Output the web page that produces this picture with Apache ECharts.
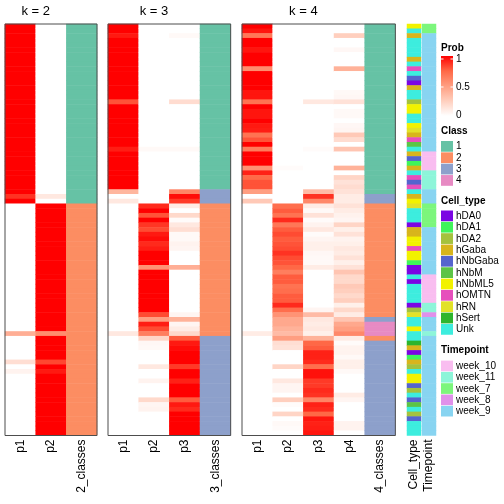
<!DOCTYPE html>
<html><head><meta charset="utf-8">
<script src="https://cdn.jsdelivr.net/npm/echarts@6/dist/echarts.min.js"></script>
<style>html,body{margin:0;padding:0;background:#fff}#c{width:504px;height:504px}</style>
</head><body><div id="c"></div>
<script>
// ---------------- DATA ----------------
const k2_p1 = [1,1,1,1,1,1,1,1,1,1, 1,1,1,1,1,1,1,1,1,1, 1,1,1,1,1,1,1,1,1,1,
  1,1,1,1,1,1,0.88,1,0,0, 0,0,0,0,0,0,0,0,0,0, 0,0,0,0,0,0,0,0,0,0,
  0,0,0,0,0,0.42,0,0,0,0, 0,0.17,0,0.06,0,0,0,0,0,0, 0,0,0,0,0,0,0];
const k2_p2 = [0,0,0,0,0,0,0,0,0,0, 0,0,0,0,0,0,0,0,0,0, 0,0,0,0,0,0,0,0,0,0,
  0,0,0,0,0,0,0.12,0,1,1, 1,1,1,1,1,1,1,1,1,1, 1,1,1,1,1,1,1,1,1,1,
  1,1,1,1,1,0.58,1,1,1,1, 1,0.83,1,0.94,1,1,1,1,1,1, 1,1,1,1,1,1,1];
const k2_class = [1,1,1,1,1,1,1,1,1,1, 1,1,1,1,1,1,1,1,1,1, 1,1,1,1,1,1,1,1,1,1,
  1,1,1,1,1,1,1,1,2,2, 2,2,2,2,2,2,2,2,2,2, 2,2,2,2,2,2,2,2,2,2,
  2,2,2,2,2,2,2,2,2,2, 2,2,2,2,2,2,2,2,2,2, 2,2,2,2,2,2,2];

const k3_p1 = [1,1,0.94,1,1,1,1,1,1,1, 1,1,1,1,1,1,0.8,1,1,1, 1,1,1,1,1,1,0.93,1,1,1,
  1,1,1,1,1,0.38,0,0.12,0,0, 0,0,0,0,0,0,0,0,0,0, 0,0,0,0,0,0,0,0,0,0,
  0,0,0,0,0,0.12,0,0,0,0, 0,0,0,0,0,0,0,0,0,0, 0,0,0,0,0,0,0];
const k3_p2 = [0,0,0,0,0,0,0,0,0,0, 0,0,0,0,0,0,0,0,0,0, 0,0,0,0,0,0,0.03,0,0,0,
  0,0,0,0,0,0,0,0,0.9,1, 0.8,1,0.87,0.82,0.94,0.97,0.9,0.93,1,1, 1,0.55,1,1,1,1,1,1,1,1,
  1,0.82,0.5,0.93,0.82,0.65,0.22,0.04,0.03,0, 0,0,0.12,0,0,0.06,0,0,0,0.2, 0.05,0.06,0,0,0,0,0];
const k3_p3 = [0,0,0.03,0,0,0,0,0,0,0, 0,0,0,0,0,0,0.18,0,0,0, 0,0,0,0,0,0,0.03,0,0,0,
  0,0,0,0,0,0.62,0.97,0.86,0.1,0, 0.2,0.02,0.12,0.17,0.03,0.03,0.06,0.05,0,0, 0,0.42,0,0,0,0,0,0,0,0,
  0,0.05,0.4,0.05,0.1,0.2,0.78,0.94,0.97,1, 1,1,0.86,1,1,0.92,1,1,1,0.78, 0.94,0.9,1,1,1,1,1];
const k3_class = [1,1,1,1,1,1,1,1,1,1, 1,1,1,1,1,1,1,1,1,1, 1,1,1,1,1,1,1,1,1,1,
  1,1,1,1,1,3,3,3,2,2, 2,2,2,2,2,2,2,2,2,2, 2,2,2,2,2,2,2,2,2,2,
  2,2,2,2,2,2,3,3,3,3, 3,3,3,3,3,3,3,3,3,3, 3,3,3,3,3,3,3];

const k4_p1 = [1,0.95,0.68,1,1,0.95,1,1,1,0.58, 1,1,1,1,0.95,0.95,0.7,1,0.95,0.95,
  1,0.94,0.93,0.7,0.8,1,0.66,1,1,1, 0.56,0.92,0.74,0.8,0.8,0.5,0,0.28,0,0,
  0,0,0,0,0,0,0,0,0,0, 0,0,0,0,0,0,0,0,0,0, 0,0,0,0,0,0.1,0,0,0,0,
  0,0,0,0,0,0,0,0,0,0, 0,0,0,0,0,0,0];
const k4_p2 = [0,0,0,0,0,0,0,0,0,0, 0,0,0,0,0,0,0,0,0,0, 0,0,0,0,0,0,0,0,0,0,
  0.02,0,0,0,0,0,0,0,0.72,0.78, 0.7,0.9,0.68,0.78,0.82,0.78,0.8,0.82,0.88,0.82,
  0.8,0.75,0.65,0.78,0.78,0.7,0.72,0.78,0.78,0.9, 0.72,0.55,0.45,0.45,0.4,0.35,0.5,0.17,0.15,0,
  0,0,0.22,0,0,0.12,0.05,0.05,0,0.25, 0.02,0,0.22,0,0.03,0.02,0];
const k4_p3 = [0,0,0,0,0,0,0,0,0,0, 0,0,0,0,0,0,0.12,0,0,0, 0,0,0,0,0,0,0.02,0,0,0,
  0,0,0,0,0,0.35,0.88,0.6,0.1,0.03, 0.15,0.02,0.06,0.12,0.02,0.05,0.08,0.08,0.04,0.03,
  0.03,0.1,0,0,0,0,0,0,0,0, 0.05,0.35,0.12,0.1,0.12,0.08,0.4,0.75,0.78,0.92,
  0.92,0.9,0.72,0.96,0.96,0.86,0.86,0.9,0.88,0.62, 0.92,0.9,0.75,0.95,0.92,0.93,0.95];
const k4_p4 = [0,0,0.25,0,0,0.04,0,0,0,0.4, 0,0,0,0,0.03,0.04,0.15,0,0.03,0.03,
  0,0.04,0.05,0.28,0.18,0,0.3,0,0,0, 0.4,0,0.22,0.15,0.18,0.15,0.1,0.1,0.15,0.1,
  0.07,0.05,0.22,0.08,0.15,0.06,0.08,0.12,0.1,0.15, 0.08,0.15,0.3,0.2,0.2,0.28,0.25,0.2,0.25,0.08,
  0.2,0.1,0.3,0.45,0.5,0.6,0.1,0.02,0.06,0.06, 0.03,0.08,0.08,0.03,0,0,0,0,0.1,0.05,
  0,0,0,0,0.06,0.06,0];
const k4_class = [1,1,1,1,1,1,1,1,1,1, 1,1,1,1,1,1,1,1,1,1, 1,1,1,1,1,1,1,1,1,1,
  1,1,1,1,1,1,3,3,2,2, 2,2,2,2,2,2,2,2,2,2, 2,2,2,2,2,2,2,2,2,2,
  2,2,3,4,4,4,2,3,3,3, 3,3,3,3,3,3,3,3,3,3, 3,3,3,3,3,3,3];

const cellTypeRows = ['hNbML5','Unk','hGaba','Unk','Unk','Unk','Unk','hGaba','Unk','hOMTN',
  'Unk','hNbGaba','hDA0','hGaba','Unk','Unk','hDA2','hNbML5','hNbML5','Unk',
  'Unk','hNbML5','hRN','hGaba','hOMTN','hNbM','Unk','hGaba','hNbGaba','hDA1',
  'hGaba','Unk','hOMTN','hNbGaba','hOMTN','Unk','hGaba','hNbML5','hRN','Unk',
  'Unk','Unk','hDA0','hGaba','hGaba','hNbML5','hNbML5','hOMTN','hNbML5','hNbML5',
  'hDA1','hDA0','hDA0','Unk','hDA0','Unk','Unk','Unk','Unk','hDA0',
  'hDA2','hRN','Unk','Unk','hNbML5','Unk','Unk','hSert','hGaba','hDA0',
  'hDA1','hGaba','hDA2','Unk','hNbML5','hNbML5','hNbGaba','hDA2','Unk','hNbGaba',
  'hNbM','Unk','hDA2','hNbGaba','Unk','Unk','Unk'];
const timepointRows = ['week_7','week_7','week_9','week_9','week_9','week_9','week_9','week_9','week_9','week_9',
  'week_9','week_9','week_9','week_9','week_9','week_9','week_9','week_9','week_9','week_9',
  'week_9','week_9','week_9','week_9','week_9','week_9','week_9','week_10','week_10','week_10',
  'week_10','week_11','week_11','week_11','week_11','week_9','week_9','week_9','week_7','week_7',
  'week_7','week_7','week_7','week_9','week_9','week_9','week_9','week_9','week_9','week_9',
  'week_9','week_9','week_9','week_10','week_10','week_10','week_10','week_10','week_10','week_11',
  'week_11','week_8','week_9','week_9','week_9','week_11','week_9','week_9','week_9','week_9',
  'week_9','week_9','week_9','week_9','week_9','week_9','week_9','week_9','week_9','week_9',
  'week_9','week_9','week_9','week_9','week_9','week_9','week_9'];

const classLevels = ['1','2','3','4'];
const classColors = ['#66C2A5','#FC8D62','#8DA0CB','#E78AC3'];
const cellTypeLevels = ['hDA0','hDA1','hDA2','hGaba','hNbGaba','hNbM','hNbML5','hOMTN','hRN','hSert','Unk'];
const cellTypeColors = ['#7B05E3','#3FF55B','#A4C23E','#D8B51C','#5564CE','#5CC446','#F2F200','#E64FBC','#E2E228','#2DB52D','#3DEDDE'];
const timepointLevels = ['week_10','week_11','week_7','week_8','week_9'];
const timepointColors = ['#F9BDF0','#8DF5D9','#7CF67C','#E090EA','#88D4F1'];
const probTicks = ['1','0.5','0'];
const probColors = ['#FFFFFF','#FFCFBE','#FF9E81','#FF6846','#FF0000'];

// ---------------- LAYOUT ----------------
const FONT = '"Liberation Sans", Arial, Helvetica, sans-serif';
const TOP = 24, H = 411.5, COLW = 30.67;
const NROW = k2_p1.length;
const rowIds = Array.from({length: NROW}, (_, i) => 'r' + i);
const panels = [
  {k: 2, left: 5,   cols: [k2_p1, k2_p2], cls: k2_class},
  {k: 3, left: 108, cols: [k3_p1, k3_p2, k3_p3], cls: k3_class},
  {k: 4, left: 242, cols: [k4_p1, k4_p2, k4_p3, k4_p4], cls: k4_class}
];
const annots = [
  {name: 'Cell_type', left: 407, rows: cellTypeRows, levels: cellTypeLevels, colors: cellTypeColors},
  {name: 'Timepoint', left: 422, rows: timepointRows, levels: timepointLevels, colors: timepointColors}
];
const ANW = 14;

const grid = [], xAxis = [], yAxis = [], series = [], graphic = [];
const probIdx = [], classIdx = [];
const labelStyle = {rotate: 90, margin: 4, fontSize: 12, fontFamily: FONT, color: '#000', interval: 0};

panels.forEach((p, gi) => {
  const n = p.cols.length;
  const w = COLW * (n + 1);
  grid.push({left: p.left, top: TOP, width: w, height: H, containLabel: false});
  const names = p.cols.map((_, i) => 'p' + (i + 1)).concat([p.k + '_classes']);
  xAxis.push({type: 'category', gridIndex: gi, data: names, position: 'bottom',
    axisLine: {show: false}, axisTick: {show: false}, splitLine: {show: false}, axisLabel: labelStyle});
  yAxis.push({type: 'category', gridIndex: gi, data: rowIds, inverse: true, show: false});
  const pd = [];
  p.cols.forEach((col, c) => col.forEach((v, r) => pd.push([c, r, v])));
  probIdx.push(series.length);
  series.push({type: 'heatmap', xAxisIndex: gi, yAxisIndex: gi, data: pd, itemStyle: {borderWidth: 0}, emphasis: {disabled: true}, progressive: 0});
  classIdx.push(series.length);
  series.push({type: 'heatmap', xAxisIndex: gi, yAxisIndex: gi, data: p.cls.map((v, r) => [n, r, v]), itemStyle: {borderWidth: 0}, emphasis: {disabled: true}, progressive: 0});
  // border
  graphic.push({type: 'rect', z: 100, shape: {x: p.left, y: TOP, width: w, height: H}, style: {fill: 'none', stroke: '#4D4D4D', lineWidth: 1}});
  // title, centred over the probability columns
  graphic.push({type: 'text', z: 100, style: {text: 'k = ' + p.k, x: p.left + COLW * n / 2, y: 11, align: 'center', verticalAlign: 'middle', font: '13px ' + FONT, fill: '#000'}});
});

const annIdx = [];
annots.forEach((a, ai) => {
  const gi = panels.length + ai;
  grid.push({left: a.left, top: TOP, width: ANW, height: H});
  xAxis.push({type: 'category', gridIndex: gi, data: [a.name], position: 'bottom',
    axisLine: {show: false}, axisTick: {show: false}, splitLine: {show: false}, axisLabel: labelStyle});
  yAxis.push({type: 'category', gridIndex: gi, data: rowIds, inverse: true, show: false});
  annIdx.push(series.length);
  series.push({type: 'heatmap', xAxisIndex: gi, yAxisIndex: gi,
    data: a.rows.map((v, r) => [0, r, a.levels.indexOf(v)]), itemStyle: {borderWidth: 0}, emphasis: {disabled: true}, progressive: 0});
});

// ---------------- LEGENDS ----------------
const LX = 441, LBW = 12, TX = 456;
function title(t, y) {
  graphic.push({type: 'text', style: {text: t, x: LX, y: y, verticalAlign: 'middle', font: 'bold 10px ' + FONT, fill: '#000'}});
}
function label(t, y) {
  graphic.push({type: 'text', style: {text: t, x: TX, y: y, verticalAlign: 'middle', font: '10px ' + FONT, fill: '#000'}});
}
// Prob
title('Prob', 48);
const gTop = 56, gBot = 116;
graphic.push({type: 'rect', shape: {x: LX, y: gTop, width: LBW, height: gBot - gTop},
  style: {fill: {type: 'linear', x: 0, y: 0, x2: 0, y2: 1, colorStops: probColors.slice().reverse().map((c, i, arr) => ({offset: i / (arr.length - 1), color: c}))}}});
const tickY = [59, 87, 115];
probTicks.forEach((t, i) => {
  label(t, tickY[i]);
  graphic.push({type: 'line', shape: {x1: LX, y1: tickY[i], x2: LX + 2.5, y2: tickY[i]}, style: {stroke: '#fff', lineWidth: 1}});
  graphic.push({type: 'line', shape: {x1: LX + LBW - 2.5, y1: tickY[i], x2: LX + LBW, y2: tickY[i]}, style: {stroke: '#fff', lineWidth: 1}});
});
function discrete(tt, ty, y0, step, levels, colors) {
  title(tt, ty);
  levels.forEach((lv, i) => {
    const y = y0 + i * step;
    graphic.push({type: 'rect', shape: {x: LX, y: y, width: LBW, height: step - 0.6}, style: {fill: colors[i]}});
    label(lv, y + step / 2);
  });
}
discrete('Class', 131, 141, 11.35, classLevels, classColors);
discrete('Cell_type', 201.7, 210.5, 11.35, cellTypeLevels, cellTypeColors);
discrete('Timepoint', 350.3, 360.6, 11.3, timepointLevels, timepointColors);

const chart = echarts.init(document.getElementById('c'), null, {renderer: 'canvas'});
chart.setOption({
  animation: false,
  backgroundColor: '#fff',
  grid, xAxis, yAxis, series, graphic,
  visualMap: [
    {type: 'continuous', show: false, min: 0, max: 1, dimension: 2, seriesIndex: probIdx, inRange: {color: probColors}},
    {type: 'piecewise', show: false, dimension: 2, seriesIndex: classIdx,
      pieces: classColors.map((c, i) => ({value: i + 1, color: c}))},
    {type: 'piecewise', show: false, dimension: 2, seriesIndex: [annIdx[0]],
      pieces: cellTypeColors.map((c, i) => ({value: i, color: c}))},
    {type: 'piecewise', show: false, dimension: 2, seriesIndex: [annIdx[1]],
      pieces: timepointColors.map((c, i) => ({value: i, color: c}))}
  ]
});
</script></body></html>
